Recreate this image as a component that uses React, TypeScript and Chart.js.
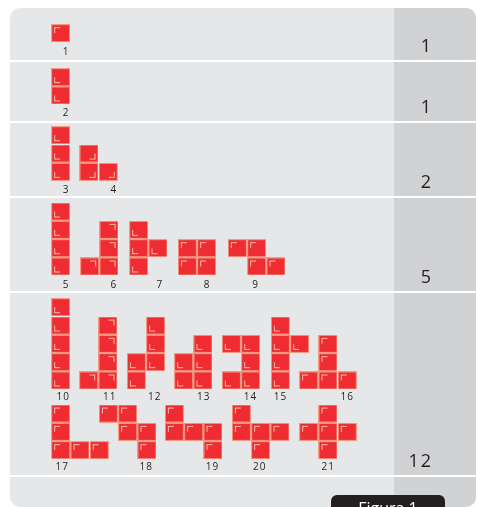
import React, { useEffect, useRef } from 'react';
import { Chart, registerables } from 'chart.js';

Chart.register(...registerables);

const W = 477;
const H = 507;

// Polyomino data: name, grid (rows from top, X = cell), band row, corner-mark orientation
const shapeNames = ['1', '2', '3', '4', '5', '6', '7', '8', '9', '10', '11', '12', '13', '14', '15', '16', '17', '18', '19', '20', '21'];
const shapeGrids: string[][] = [
  ['X'],
  ['X', 'X'],
  ['X', 'X', 'X'],
  ['X.', 'XX'],
  ['X', 'X', 'X', 'X'],
  ['.X', '.X', 'XX'],
  ['X.', 'XX', 'X.'],
  ['XX', 'XX'],
  ['XX.', '.XX'],
  ['X', 'X', 'X', 'X', 'X'],
  ['.X', '.X', '.X', 'XX'],
  ['.X', '.X', 'XX', 'X.'],
  ['.X', 'XX', 'XX'],
  ['XX', '.X', 'XX'],
  ['X.', 'XX', 'X.', 'X.'],
  ['.X.', '.X.', 'XXX'],
  ['X..', 'X..', 'XXX'],
  ['XX.', '.XX', '..X'],
  ['X..', 'XXX', '..X'],
  ['X..', 'XXX', '.X.'],
  ['.X.', 'XXX', '.X.'],
];
const shapeMarks = ['tl', 'bl', 'bl', 'br', 'bl', 'tr', 'bl', 'tl', 'tl', 'bl', 'tr', 'bl', 'bl', 'bl', 'bl', 'tl', 'tl', 'tl', 'tl', 'tl', 'tl'];
const shapeLine = [0, 1, 2, 2, 3, 3, 3, 3, 3, 4, 4, 4, 4, 4, 4, 4, 5, 5, 5, 5, 5];
const shapeLeft = [51, 51, 51, 79.3, 51, 80, 129, 177.7, 227.7, 51, 79, 126.7, 174, 221.7, 270.7, 299, 51, 98.7, 164.7, 231.7, 299];
const labelX = [65.7, 65.7, 65.7, 113.3, 65.7, 113.3, 159.3, 206.7, 255, 62.7, 109.3, 154.3, 203.3, 250, 280, 346.7, 61.7, 145.7, 212, 259.3, 327.7];

// Line layout (pixel-valued scale units)
const lineCellBottom = [42.3, 104.6, 181, 275.6, 389.6, 459.3];
const lineLabelBaseline = [54.5, 115.5, 193, 287.5, 399.5, 470];

// Right column counts
const countLabels = ['1', '1', '2', '5', '12'];
const bandBottoms = [60, 121, 196, 291, 475];

const CW = 19.3;
const CH = 18.3;

const RED = '#EE2C31';
const BORDER = '#F39A86';
const MARK = '#F8BDB2';
const TEXT = '#231F20';

function makeCell(mark: string): HTMLCanvasElement {
  const c = document.createElement('canvas');
  const w = 19;
  const h = 18;
  c.width = w;
  c.height = h;
  const g = c.getContext('2d')!;
  g.fillStyle = BORDER;
  g.fillRect(0, 0, w, h);
  g.fillStyle = RED;
  g.fillRect(1, 1, w - 2, h - 2);
  g.fillStyle = MARK;
  if (mark === 'tl') {
    g.fillRect(3, 3, 6, 1);
    g.fillRect(3, 3, 1, 6);
  } else if (mark === 'bl') {
    g.fillRect(3, h - 4, 6, 1);
    g.fillRect(3, h - 9, 1, 6);
  } else if (mark === 'br') {
    g.fillRect(w - 9, h - 4, 6, 1);
    g.fillRect(w - 4, h - 9, 1, 6);
  } else {
    g.fillRect(w - 9, 3, 6, 1);
    g.fillRect(w - 4, 3, 1, 6);
  }
  return c;
}

export default function App() {
  const ref = useRef<HTMLCanvasElement | null>(null);

  useEffect(() => {
    if (!ref.current) return;
    const images: Record<string, HTMLCanvasElement> = {
      tl: makeCell('tl'),
      bl: makeCell('bl'),
      br: makeCell('br'),
      tr: makeCell('tr'),
    };

    const points: { x: number; y: number; mark: string }[] = [];
    shapeGrids.forEach((grid, i) => {
      const n = grid.length;
      grid.forEach((row, r) => {
        row.split('').forEach((ch, c) => {
          if (ch !== 'X') return;
          points.push({
            x: shapeLeft[i] + c * CW + CW / 2,
            y: lineCellBottom[shapeLine[i]] - (n - 1 - r) * CH - CH / 2,
            mark: shapeMarks[i],
          });
        });
      });
    });

    const bgPlugin = {
      id: 'bgPanel',
      beforeDraw(chart: any) {
        const { ctx, scales } = chart;
        const px = (v: number) => scales.x.getPixelForValue(v);
        const py = (v: number) => scales.y.getPixelForValue(v);
        ctx.save();
        ctx.fillStyle = '#ffffff';
        ctx.fillRect(0, 0, W, H);
        ctx.beginPath();
        ctx.roundRect(px(10), py(8), px(476) - px(10), py(507) - py(8), 10);
        ctx.fillStyle = '#E6E7E8';
        ctx.fill();
        ctx.clip();
        ctx.fillStyle = '#D1D2D4';
        ctx.fillRect(px(394), py(8), px(477) - px(394), py(507) - py(8));
        ctx.fillStyle = '#ffffff';
        bandBottoms.forEach((b) => {
          ctx.fillRect(px(10), py(b), px(477) - px(10), 2);
        });
        ctx.restore();
      },
      afterDatasetsDraw(chart: any) {
        const { ctx, scales } = chart;
        const px = (v: number) => scales.x.getPixelForValue(v);
        const py = (v: number) => scales.y.getPixelForValue(v);
        ctx.save();
        ctx.fillStyle = TEXT;
        ctx.textAlign = 'center';
        ctx.textBaseline = 'alphabetic';
        ctx.font = '10px "Open Sans", sans-serif';
        (ctx as any).letterSpacing = '1px';
        shapeNames.forEach((name, i) => {
          ctx.fillText(name, px(labelX[i]) + 0.5, py(lineLabelBaseline[shapeLine[i]]));
        });
        ctx.font = '18px "Open Sans", sans-serif';
        (ctx as any).letterSpacing = '2px';
        ctx.textAlign = 'right';
        countLabels.forEach((t, i) => {
          ctx.fillText(t, px(433), py(bandBottoms[i] - 8));
        });
        // Figure caption tab
        (ctx as any).letterSpacing = '0px';
        ctx.textAlign = 'center';
        ctx.beginPath();
        ctx.roundRect(px(331), py(495), px(445) - px(331), 30, 6);
        ctx.fillStyle = TEXT;
        ctx.fill();
        ctx.fillStyle = '#ffffff';
        ctx.font = '16px "Open Sans", sans-serif';
        ctx.fillText('Figura 1', px(388), py(514));
        ctx.restore();
      },
    };

    const chart = new Chart(ref.current, {
      type: 'scatter',
      data: {
        datasets: [
          {
            data: points as any,
            pointStyle: ((c: any) => images[c.raw?.mark ?? 'tl']) as any,
            pointRadius: 9,
            pointHoverRadius: 9,
            clip: false as any,
          },
        ],
      },
      options: {
        responsive: false,
        animation: false,
        devicePixelRatio: 1,
        events: [],
        layout: { padding: 0, autoPadding: false },
        plugins: { legend: { display: false }, tooltip: { enabled: false }, title: { display: false } },
        scales: {
          x: { type: 'linear', min: 0, max: W, display: false },
          y: { type: 'linear', min: 0, max: H, reverse: true, display: false },
        },
      },
      plugins: [bgPlugin],
    });
    return () => chart.destroy();
  }, []);

  return (
    <div style={{ position: 'absolute', left: 0, top: 0, width: W, height: H }}>
      <canvas ref={ref} width={W} height={H} style={{ display: 'block', width: W, height: H }} />
    </div>
  );
}
